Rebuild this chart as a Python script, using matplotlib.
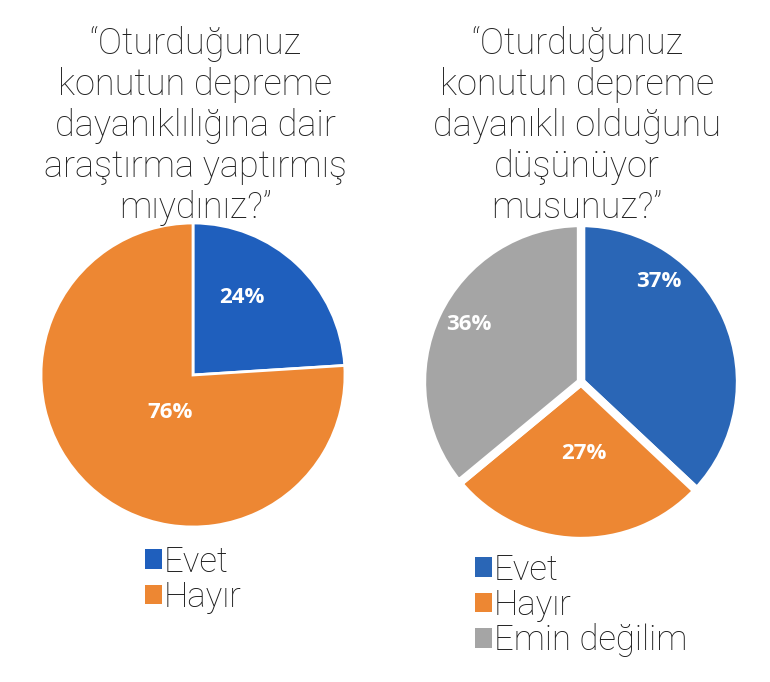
import numpy as np
import matplotlib
matplotlib.use('Agg')
import matplotlib.pyplot as plt
from matplotlib.patches import Patch

# survey data
labels_left = ['Evet', 'Hayır']
values_left = [24, 76]
labels_right = ['Evet', 'Hayır', 'Emin değilim']
values_right = [37, 27, 36]

title_left = '“Oturduğunuz\nkonutun depreme\ndayanıklılığına dair\naraştırma yaptırmış\nmıydınız?”'
title_right = '“Oturduğunuz\nkonutun depreme\ndayanıklı olduğunu\ndüşünüyor\nmusunuz?”'

blue_l = '#1f5fbd'
blue_r = '#2a66b6'
orange = '#ed8733'
gray = '#a5a5a5'

W, H = 770, 682
fig = plt.figure(figsize=(W / 100, H / 100), dpi=100)


def pie_axes(cx, cy, r):
    return fig.add_axes([(cx - r) / W, (H - cy - r) / H, 2 * r / W, 2 * r / H])


def draw_pie(ax, values, colors, lw, label_r, nudge):
    wedges, _ = ax.pie(values, colors=colors, startangle=90, counterclock=False,
                       wedgeprops=dict(edgecolor='white', linewidth=lw))
    for w, v, rr, dn in zip(wedges, values, label_r, nudge):
        th = np.deg2rad((w.theta1 + w.theta2) / 2 + dn)
        ax.text(rr * np.cos(th), rr * np.sin(th), '%d%%' % v, color='white',
                ha='center', va='center', fontsize=16, fontweight='bold',
                family='Open Sans')
    ax.set_xlim(-1, 1)
    ax.set_ylim(-1, 1)
    ax.set_aspect('equal')
    ax.axis('off')
    return wedges


ax1 = pie_axes(193, 375, 152)
draw_pie(ax1, values_left, [blue_l, orange], 2, [0.6, 0.29], [11, 12])
ax2 = pie_axes(581, 382, 159)
draw_pie(ax2, values_right, [blue_r, orange, gray], 6, [0.8, 0.45, 0.79], [29, 4, -2])

# titles
for x, t in [(195, title_left), (577, title_right)]:
    fig.text(x / W, 1 - 26 / H, t, ha='center', va='top', fontsize=26,
             family='Roboto', fontweight='light', color='#222222',
             linespacing=1.18)

# legends
for x, y, labs, cols in [(145, 545, labels_left, [blue_l, orange]),
                         (475, 553, labels_right, [blue_r, orange, gray])]:
    handles = [Patch(facecolor=c, edgecolor='none') for c in cols]
    fig.legend(handles, labs, loc='upper left', bbox_to_anchor=(x / W, 1 - y / H),
               frameon=False, borderpad=0, borderaxespad=0, handlelength=0.5,
               handleheight=0.5, handletextpad=0.05, labelspacing=0.05,
               prop=dict(family='Roboto', weight='light', size=25),
               labelcolor='#1a1a1a')

fig.savefig('out.png', dpi=100, facecolor='white')
